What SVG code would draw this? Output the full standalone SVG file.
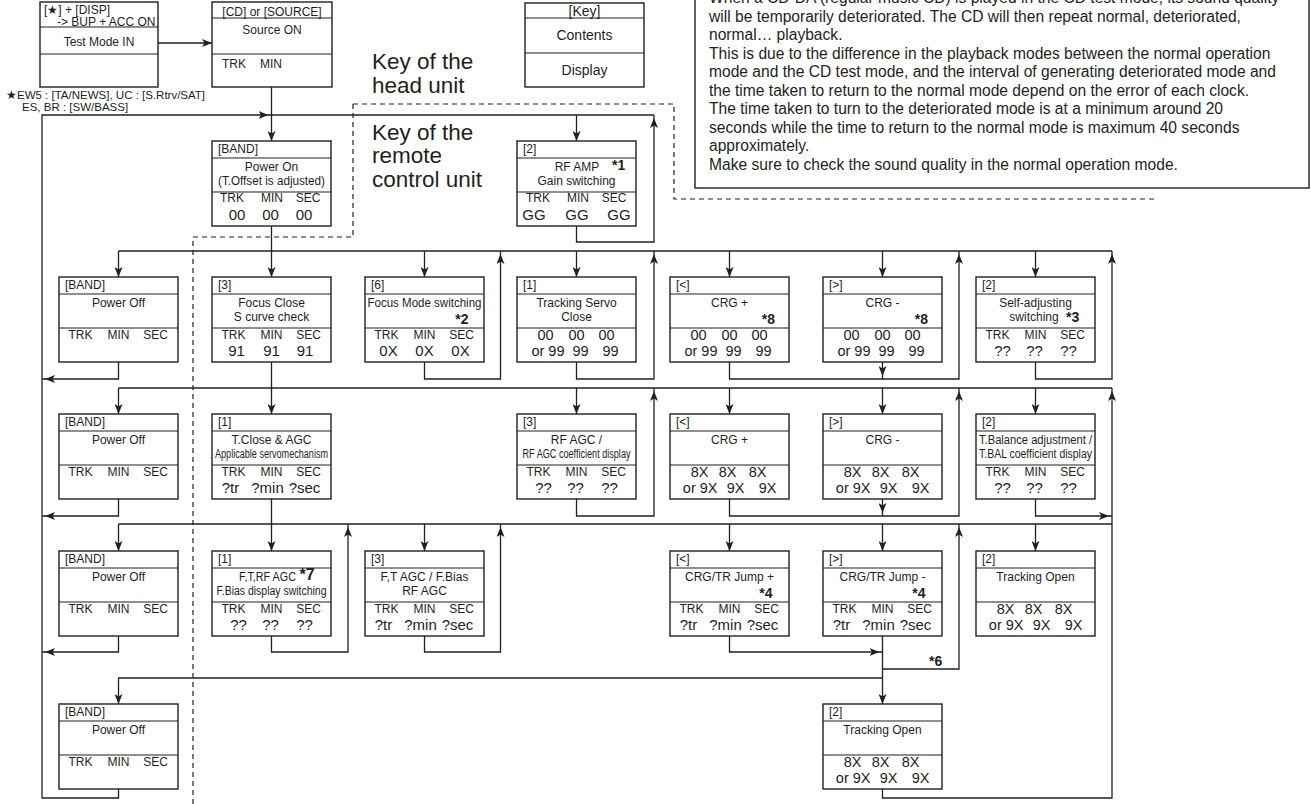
<svg xmlns="http://www.w3.org/2000/svg" width="1311" height="804" viewBox="0 0 1311 804">
<style>
text{font-family:"Liberation Sans",Arial,Helvetica,sans-serif;fill:#231f20}
.f{fill:#fff;stroke:#231f20;stroke-width:1.4}
.d{fill:none;stroke:#231f20;stroke-width:1.2}
.h{font-size:12px}
.fn{font-size:11.5px}
.m{font-size:12px;text-anchor:middle}
.v{font-size:15px;text-anchor:middle}
.w{font-size:14.5px;text-anchor:middle}
.we{font-size:14.5px;text-anchor:end}
.s{font-size:14px;font-weight:bold}
.se{font-size:14px;font-weight:bold;text-anchor:end}
.k{font-size:22.5px}
.n{font-size:15.6px}
.kb{font-size:14px;text-anchor:middle}
.con{fill:none;stroke:#231f20;stroke-width:1.3}
.dash{fill:none;stroke:#231f20;stroke-width:1.2;stroke-dasharray:5 4}
</style>
<defs>
<marker id="ah" viewBox="0 0 10 8" refX="10" refY="4" markerWidth="10" markerHeight="8" markerUnits="userSpaceOnUse" orient="auto"><path d="M0,0L10,4L0,8L2.5,4Z" fill="#231f20"/></marker>
<marker id="aj" viewBox="0 0 13 8" refX="13" refY="4" markerWidth="13" markerHeight="8" markerUnits="userSpaceOnUse" orient="auto"><path d="M0,0L10,4L0,8L2.5,4Z" fill="#231f20"/></marker>
<g id="frame"><rect class="f" width="119" height="85"/><path class="d" d="M0,17H119M0,51H119"/></g>
</defs>
<rect width="1311" height="804" fill="#fff"/>

<!-- dashed zone borders -->
<g id="zones">
<path class="dash" d="M353,104H674V199H1157"/>
<path class="dash" d="M353,104V237H193V804"/>
</g>

<!-- note -->
<g id="note">
<rect class="f" x="695" y="-10" width="614" height="198"/>
<text class="n" x="709" y="3">When a CD-DA (regular music CD) is played in the CD test mode, its sound quality</text>
<text class="n" x="709" y="21.5">will be temporarily deteriorated. The CD will then repeat normal, deteriorated,</text>
<text class="n" x="709" y="40">normal… playback.</text>
<text class="n" x="709" y="58.5">This is due to the difference in the playback modes between the normal operation</text>
<text class="n" x="709" y="77">mode and the CD test mode, and the interval of generating deteriorated mode and</text>
<text class="n" x="709" y="95.5">the time taken to return to the normal mode depend on the error of each clock.</text>
<text class="n" x="709" y="114">The time taken to turn to the deteriorated mode is at a minimum around 20</text>
<text class="n" x="709" y="132.5">seconds while the time to return to the normal mode is maximum 40 seconds</text>
<text class="n" x="709" y="151">approximately.</text>
<text class="n" x="709" y="169.5">Make sure to check the sound quality in the normal operation mode.</text>
</g>

<g id="labels">
<text class="k" x="372" y="69">Key of the</text>
<text class="k" x="372" y="93">head unit</text>
<text class="k" x="372" y="139.5">Key of the</text>
<text class="k" x="372" y="163">remote</text>
<text class="k" x="372" y="186.5">control unit</text>
<text class="fn" x="6" y="99">★EW5 : [TA/NEWS], UC : [S.Rtrv/SAT]</text>
<text class="fn" x="22" y="111">ES, BR : [SW/BASS]</text>
</g>

<!-- connectors -->
<g id="connectors" class="con">
<path d="M158,43H212" marker-end="url(#ah)"/>
<path d="M271.5,87V141" marker-end="url(#ah)"/>
<path d="M118.5,789V798H42V115H271.5" marker-end="url(#aj)"/>
<path d="M271.5,115H654"/>
<path d="M576.5,115V141" marker-end="url(#ah)"/>
<path d="M576.5,226V242H654V115" marker-end="url(#aj)"/>
<path d="M271.5,226V277" marker-end="url(#ah)"/>
<path d="M118.5,251H1112"/>
<path d="M118.5,251V277" marker-end="url(#ah)"/>
<path d="M424.5,251V277" marker-end="url(#ah)"/>
<path d="M576.5,251V277" marker-end="url(#ah)"/>
<path d="M729.5,251V277" marker-end="url(#ah)"/>
<path d="M882.5,251V277" marker-end="url(#ah)"/>
<path d="M1035.5,251V277" marker-end="url(#ah)"/>
<path d="M118.5,362V379H42" marker-end="url(#aj)"/>
<path d="M271.5,362V414" marker-end="url(#ah)"/>
<path d="M424.5,362V379H500.5V251" marker-end="url(#aj)"/>
<path d="M576.5,362V379H654V251" marker-end="url(#aj)"/>
<path d="M729.5,362V379H959V251" marker-end="url(#aj)"/>
<path d="M882.5,362V379" marker-end="url(#aj)"/>
<path d="M1035.5,362V379H1112V251" marker-end="url(#aj)"/>
<path d="M118.5,388H1112"/>
<path d="M118.5,388V414" marker-end="url(#ah)"/>
<path d="M576.5,388V414" marker-end="url(#ah)"/>
<path d="M729.5,388V414" marker-end="url(#ah)"/>
<path d="M882.5,388V414" marker-end="url(#ah)"/>
<path d="M1035.5,388V414" marker-end="url(#ah)"/>
<path d="M118.5,499V516H42" marker-end="url(#aj)"/>
<path d="M271.5,499V551" marker-end="url(#ah)"/>
<path d="M576.5,499V516H654V388" marker-end="url(#aj)"/>
<path d="M729.5,499V516H959V388" marker-end="url(#aj)"/>
<path d="M882.5,499V516" marker-end="url(#aj)"/>
<path d="M1035.5,499V516H1112" marker-end="url(#aj)"/>
<path d="M118.5,524H1112"/>
<path d="M118.5,524V551" marker-end="url(#ah)"/>
<path d="M424.5,524V551" marker-end="url(#ah)"/>
<path d="M729.5,524V551" marker-end="url(#ah)"/>
<path d="M882.5,524V551" marker-end="url(#ah)"/>
<path d="M1035.5,524V551" marker-end="url(#ah)"/>
<path d="M118.5,636V652H42" marker-end="url(#aj)"/>
<path d="M271.5,636V652H348V524" marker-end="url(#aj)"/>
<path d="M424.5,636V652H500.5V524" marker-end="url(#aj)"/>
<path d="M729.5,636V652H882.5" marker-end="url(#aj)"/>
<path d="M882.5,636V704" marker-end="url(#ah)"/>
<path d="M882.5,669H959V524" marker-end="url(#aj)"/>
<path d="M882.5,678H118.5V704" marker-end="url(#ah)"/>
<path d="M882.5,789V798H1112V388" marker-end="url(#aj)"/>
</g>
<text class="s" x="929" y="666">*6</text>

<!-- top nodes -->
<g id="n-testmode">
<rect class="f" x="40" y="2" width="118" height="85"/>
<path class="d" d="M40,27H158M40,54H158"/>
<text class="h" x="44" y="14">[★] + [DISP]</text>
<text class="h" x="57" y="25.5">-&gt; BUP + ACC ON</text>
<text class="m" x="99" y="46">Test Mode IN</text>
</g>
<g id="n-source">
<rect class="f" x="212" y="2" width="120" height="85"/>
<path class="d" d="M212,18H332M212,54H332"/>
<text class="m" x="272" y="15.5">[CD] or [SOURCE]</text>
<text class="m" x="272" y="34">Source ON</text>
<text class="h" x="222" y="68">TRK</text>
<text class="h" x="260" y="68">MIN</text>
</g>
<g id="n-key">
<rect class="f" x="525" y="3" width="119" height="84"/>
<path class="d" d="M525,18H644M525,53H644"/>
<text class="kb" x="584.5" y="15.5">[Key]</text>
<text class="kb" x="584.5" y="40">Contents</text>
<text class="kb" x="584.5" y="75">Display</text>
</g>
<g id="n-poweron" transform="translate(212,141)">
<use href="#frame"/>
<text class="h" x="6" y="12">[BAND]</text>
<text class="m" x="59.5" y="30">Power On</text>
<text class="m" x="59.5" y="44" textLength="107" lengthAdjust="spacingAndGlyphs">(T.Offset is adjusted)</text>
<text class="m" y="61"><tspan x="20">TRK</tspan><tspan x="60">MIN</tspan><tspan x="96">SEC</tspan></text>
<text class="v" y="79"><tspan x="25">00</tspan><tspan x="58.5">00</tspan><tspan x="92">00</tspan></text>
</g>
<g id="n-rfamp" transform="translate(517,141)">
<use href="#frame"/>
<text class="h" x="6" y="12">[2]</text>
<text class="m" x="60" y="30">RF AMP</text>
<text class="s" x="95" y="29">*1</text>
<text class="m" x="59.5" y="44">Gain switching</text>
<text class="m" y="61"><tspan x="21">TRK</tspan><tspan x="61">MIN</tspan><tspan x="97">SEC</tspan></text>
<text class="v" y="79"><tspan x="17">GG</tspan><tspan x="60">GG</tspan><tspan x="102">GG</tspan></text>
</g>

<!-- row 1 -->
<g id="n-r1-poweroff" transform="translate(59,277)">
<use href="#frame"/>
<text class="h" x="6" y="12">[BAND]</text>
<text class="m" x="59.5" y="30">Power Off</text>
<text class="m" y="62"><tspan x="21.5">TRK</tspan><tspan x="59.5">MIN</tspan><tspan x="96.5">SEC</tspan></text>
</g>
<g id="n-focus-close" transform="translate(212,277)">
<use href="#frame"/>
<text class="h" x="6" y="12">[3]</text>
<text class="m" x="59.5" y="30">Focus Close</text>
<text class="m" x="59.5" y="44">S curve check</text>
<text class="m" y="62"><tspan x="21.5">TRK</tspan><tspan x="59.5">MIN</tspan><tspan x="96.5">SEC</tspan></text>
<text class="v" y="79"><tspan x="24.5">91</tspan><tspan x="59.5">91</tspan><tspan x="93">91</tspan></text>
</g>
<g id="n-focus-mode" transform="translate(365,277)">
<use href="#frame"/>
<text class="h" x="6" y="12">[6]</text>
<text class="m" x="59.5" y="30" textLength="114" lengthAdjust="spacingAndGlyphs">Focus Mode switching</text>
<text class="se" x="103.5" y="47">*2</text>
<text class="m" y="62"><tspan x="21.5">TRK</tspan><tspan x="59.5">MIN</tspan><tspan x="96.5">SEC</tspan></text>
<text class="v" y="79"><tspan x="23.5">0X</tspan><tspan x="59.5">0X</tspan><tspan x="95.5">0X</tspan></text>
</g>
<g id="n-tracking-servo" transform="translate(517,277)">
<use href="#frame"/>
<text class="h" x="6" y="12">[1]</text>
<text class="m" x="59.5" y="30">Tracking Servo</text>
<text class="m" x="59.5" y="44">Close</text>
<text class="w" y="62.5"><tspan x="28.5">00</tspan><tspan x="59.5">00</tspan><tspan x="89.5">00</tspan></text>
<text class="we" x="47.5" y="79">or 99</text>
<text class="w" y="79"><tspan x="63.5">99</tspan><tspan x="93.5">99</tspan></text>
</g>
<g id="n-r1-crg-plus" transform="translate(670,277)">
<use href="#frame"/>
<text class="h" x="6" y="12">[&lt;]</text>
<text class="m" x="59.5" y="30">CRG +</text>
<text class="se" x="105" y="47">*8</text>
<text class="w" y="62.5"><tspan x="28.5">00</tspan><tspan x="59.5">00</tspan><tspan x="89.5">00</tspan></text>
<text class="we" x="47.5" y="79">or 99</text>
<text class="w" y="79"><tspan x="63.5">99</tspan><tspan x="93.5">99</tspan></text>
</g>
<g id="n-r1-crg-minus" transform="translate(823,277)">
<use href="#frame"/>
<text class="h" x="6" y="12">[&gt;]</text>
<text class="m" x="59.5" y="30">CRG -</text>
<text class="se" x="105" y="47">*8</text>
<text class="w" y="62.5"><tspan x="28.5">00</tspan><tspan x="59.5">00</tspan><tspan x="89.5">00</tspan></text>
<text class="we" x="47.5" y="79">or 99</text>
<text class="w" y="79"><tspan x="63.5">99</tspan><tspan x="93.5">99</tspan></text>
</g>
<g id="n-self-adjusting" transform="translate(976,277)">
<use href="#frame"/>
<text class="h" x="6" y="12">[2]</text>
<text class="m" x="59.5" y="30">Self-adjusting</text>
<text class="m" x="58" y="44">switching</text>
<text class="s" x="90" y="45">*3</text>
<text class="m" y="62"><tspan x="21.5">TRK</tspan><tspan x="59.5">MIN</tspan><tspan x="96.5">SEC</tspan></text>
<text class="v" y="79"><tspan x="26.5">??</tspan><tspan x="58.5">??</tspan><tspan x="92.5">??</tspan></text>
</g>

<!-- row 2 -->
<g id="n-r2-poweroff" transform="translate(59,414)">
<use href="#frame"/>
<text class="h" x="6" y="12">[BAND]</text>
<text class="m" x="59.5" y="30">Power Off</text>
<text class="m" y="62"><tspan x="21.5">TRK</tspan><tspan x="59.5">MIN</tspan><tspan x="96.5">SEC</tspan></text>
</g>
<g id="n-tclose-agc" transform="translate(212,414)">
<use href="#frame"/>
<text class="h" x="6" y="12">[1]</text>
<text class="m" x="59.5" y="30">T.Close &amp; AGC</text>
<text class="m" x="59.5" y="44" textLength="113" lengthAdjust="spacingAndGlyphs">Applicable servomechanism</text>
<text class="m" y="62"><tspan x="21.5">TRK</tspan><tspan x="59.5">MIN</tspan><tspan x="96.5">SEC</tspan></text>
<text class="v" y="79"><tspan x="18.5">?tr</tspan><tspan x="55.5">?min</tspan><tspan x="92.5">?sec</tspan></text>
</g>
<g id="n-rf-agc" transform="translate(517,414)">
<use href="#frame"/>
<text class="h" x="6" y="12">[3]</text>
<text class="m" x="59.5" y="30">RF AGC /</text>
<text class="m" x="59.5" y="44" textLength="108" lengthAdjust="spacingAndGlyphs">RF AGC coefficient display</text>
<text class="m" y="62"><tspan x="21.5">TRK</tspan><tspan x="59.5">MIN</tspan><tspan x="96.5">SEC</tspan></text>
<text class="v" y="79"><tspan x="26.5">??</tspan><tspan x="58.5">??</tspan><tspan x="92.5">??</tspan></text>
</g>
<g id="n-r2-crg-plus" transform="translate(670,414)">
<use href="#frame"/>
<text class="h" x="6" y="12">[&lt;]</text>
<text class="m" x="59.5" y="30">CRG +</text>
<text class="w" y="62.5"><tspan x="29.5">8X</tspan><tspan x="57.5">8X</tspan><tspan x="87.5">8X</tspan></text>
<text class="we" x="47.5" y="79">or 9X</text>
<text class="w" y="79"><tspan x="65.5">9X</tspan><tspan x="97.5">9X</tspan></text>
</g>
<g id="n-r2-crg-minus" transform="translate(823,414)">
<use href="#frame"/>
<text class="h" x="6" y="12">[&gt;]</text>
<text class="m" x="59.5" y="30">CRG -</text>
<text class="w" y="62.5"><tspan x="29.5">8X</tspan><tspan x="57.5">8X</tspan><tspan x="87.5">8X</tspan></text>
<text class="we" x="47.5" y="79">or 9X</text>
<text class="w" y="79"><tspan x="65.5">9X</tspan><tspan x="97.5">9X</tspan></text>
</g>
<g id="n-tbalance" transform="translate(976,414)">
<use href="#frame"/>
<text class="h" x="6" y="12">[2]</text>
<text class="m" x="59.5" y="30" textLength="113" lengthAdjust="spacingAndGlyphs">T.Balance adjustment /</text>
<text class="m" x="59.5" y="44" textLength="113" lengthAdjust="spacingAndGlyphs">T.BAL coefficient display</text>
<text class="m" y="62"><tspan x="21.5">TRK</tspan><tspan x="59.5">MIN</tspan><tspan x="96.5">SEC</tspan></text>
<text class="v" y="79"><tspan x="26.5">??</tspan><tspan x="58.5">??</tspan><tspan x="92.5">??</tspan></text>
</g>

<!-- row 3 -->
<g id="n-r3-poweroff" transform="translate(59,551)">
<use href="#frame"/>
<text class="h" x="6" y="12">[BAND]</text>
<text class="m" x="59.5" y="30">Power Off</text>
<text class="m" y="62"><tspan x="21.5">TRK</tspan><tspan x="59.5">MIN</tspan><tspan x="96.5">SEC</tspan></text>
</g>
<g id="n-ftrf-agc" transform="translate(212,551)">
<use href="#frame"/>
<text class="h" x="6" y="12">[1]</text>
<text class="h" x="27" y="30" textLength="57" lengthAdjust="spacingAndGlyphs">F,T,RF AGC</text>
<text class="s" x="87.5" y="29" style="font-size:16px">*7</text>
<text class="m" x="59.5" y="44" textLength="110" lengthAdjust="spacingAndGlyphs">F.Bias display switching</text>
<text class="m" y="62"><tspan x="21.5">TRK</tspan><tspan x="59.5">MIN</tspan><tspan x="96.5">SEC</tspan></text>
<text class="v" y="79"><tspan x="26.5">??</tspan><tspan x="58.5">??</tspan><tspan x="92.5">??</tspan></text>
</g>
<g id="n-ft-agc" transform="translate(365,551)">
<use href="#frame"/>
<text class="h" x="6" y="12">[3]</text>
<text class="m" x="59.5" y="30">F,T AGC / F.Bias</text>
<text class="m" x="59.5" y="44">RF AGC</text>
<text class="m" y="62"><tspan x="21.5">TRK</tspan><tspan x="59.5">MIN</tspan><tspan x="96.5">SEC</tspan></text>
<text class="v" y="79"><tspan x="18.5">?tr</tspan><tspan x="55.5">?min</tspan><tspan x="92.5">?sec</tspan></text>
</g>
<g id="n-jump-plus" transform="translate(670,551)">
<use href="#frame"/>
<text class="h" x="6" y="12">[&lt;]</text>
<text class="m" x="59.5" y="30">CRG/TR Jump +</text>
<text class="se" x="102.5" y="46.5">*4</text>
<text class="m" y="62"><tspan x="21.5">TRK</tspan><tspan x="59.5">MIN</tspan><tspan x="96.5">SEC</tspan></text>
<text class="v" y="79"><tspan x="18.5">?tr</tspan><tspan x="55.5">?min</tspan><tspan x="92.5">?sec</tspan></text>
</g>
<g id="n-jump-minus" transform="translate(823,551)">
<use href="#frame"/>
<text class="h" x="6" y="12">[&gt;]</text>
<text class="m" x="59.5" y="30">CRG/TR Jump -</text>
<text class="se" x="102.5" y="46.5">*4</text>
<text class="m" y="62"><tspan x="21.5">TRK</tspan><tspan x="59.5">MIN</tspan><tspan x="96.5">SEC</tspan></text>
<text class="v" y="79"><tspan x="18.5">?tr</tspan><tspan x="55.5">?min</tspan><tspan x="92.5">?sec</tspan></text>
</g>
<g id="n-r3-tracking-open" transform="translate(976,551)">
<use href="#frame"/>
<text class="h" x="6" y="12">[2]</text>
<text class="m" x="59.5" y="30">Tracking Open</text>
<text class="w" y="62.5"><tspan x="29.5">8X</tspan><tspan x="57.5">8X</tspan><tspan x="87.5">8X</tspan></text>
<text class="we" x="47.5" y="79">or 9X</text>
<text class="w" y="79"><tspan x="65.5">9X</tspan><tspan x="97.5">9X</tspan></text>
</g>

<!-- row 4 -->
<g id="n-r4-poweroff" transform="translate(59,704)">
<use href="#frame"/>
<text class="h" x="6" y="12">[BAND]</text>
<text class="m" x="59.5" y="30">Power Off</text>
<text class="m" y="62"><tspan x="21.5">TRK</tspan><tspan x="59.5">MIN</tspan><tspan x="96.5">SEC</tspan></text>
</g>
<g id="n-r4-tracking-open" transform="translate(823,704)">
<use href="#frame"/>
<text class="h" x="6" y="12">[2]</text>
<text class="m" x="59.5" y="30">Tracking Open</text>
<text class="w" y="62.5"><tspan x="29.5">8X</tspan><tspan x="57.5">8X</tspan><tspan x="87.5">8X</tspan></text>
<text class="we" x="47.5" y="79">or 9X</text>
<text class="w" y="79"><tspan x="65.5">9X</tspan><tspan x="97.5">9X</tspan></text>
</g>
</svg>
